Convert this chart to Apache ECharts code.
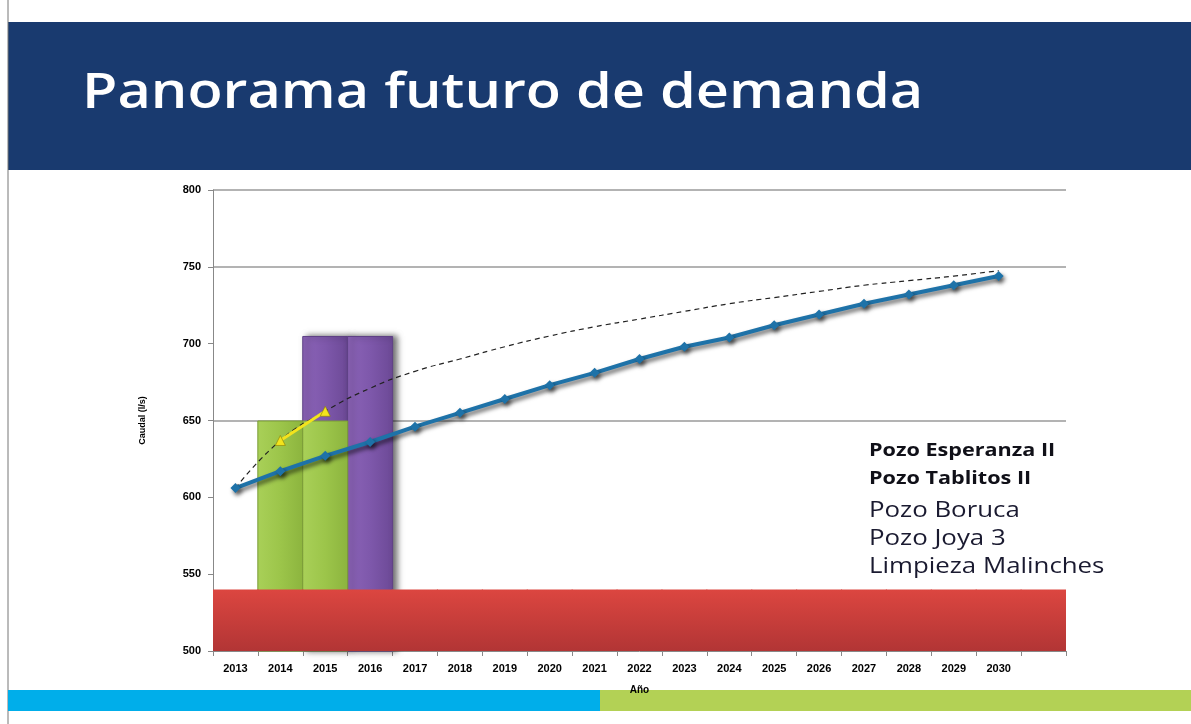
<!DOCTYPE html>
<html>
<head>
<meta charset="utf-8">
<title>Panorama futuro de demanda</title>
<script src="https://cdn.jsdelivr.net/npm/echarts@6/dist/echarts.min.js"></script>
<style>
  html, body { margin: 0; padding: 0; background: #fff; }
  #chart { width: 1191px; height: 724px; }
</style>
</head>
<body>
<div id="chart"></div>
<script>
// years on the x axis, last slot is an empty category
var years = ["2013", "2014", "2015", "2016", "2017", "2018", "2019", "2020", "2021",
  "2022", "2023", "2024", "2025", "2026", "2027", "2028", "2029", "2030", ""];

// demanda proyectada (l/s)
var demanda = [606, 617, 627, 636, 646, 655, 664, 673, 681,
  690, 698, 704, 712, 719, 726, 732, 738, 744, "-"];

// tendencia (linea punteada)
var tendencia = [606, 637, 656, 671, 682, 690, 698, 705, 711,
  716, 721, 726, 730, 734, 738, 741, 744, 747.5, "-"];

// tramo amarillo
var amarillo = ["-", 637, 656, "-", "-", "-", "-", "-", "-",
  "-", "-", "-", "-", "-", "-", "-", "-", "-", "-"];

// oferta: base + nuevos pozos
var base = [540, 540, 540, 540, 540, 540, 540, 540, 540,
  540, 540, 540, 540, 540, 540, 540, 540, 540, 540];
var verde = ["-", 650, 650, "-", "-", "-", "-", "-", "-",
  "-", "-", "-", "-", "-", "-", "-", "-", "-", "-"];
var morado = ["-", "-", 705, 705, "-", "-", "-", "-", "-",
  "-", "-", "-", "-", "-", "-", "-", "-", "-", "-"];

var yTicks = [500, 550, 600, 650, 700, 750, 800];

var proyectos = ["Pozo Esperanza II", "Pozo Tablitos II", "Pozo Boruca",
  "Pozo Joya 3", "Limpieza Malinches"];

var chart = echarts.init(document.getElementById("chart"));

var labelY = [451, 479, 511, 539, 567];
var textos = proyectos.map(function (t, i) {
  return {
    type: "text",
    x: 869,
    y: labelY[i],
    scaleX: i < 2 ? 1.2 : 1.23,
    originX: 0,
    originY: 0,
    style: {
      text: t,
      fill: i < 2 ? "#101018" : "#1a1a30",
      verticalAlign: "middle",
      font: (i < 2 ? "bold 18px" : "21px") + " 'Open Sans', sans-serif"
    }
  };
});

var redFill = new echarts.graphic.LinearGradient(0, 0, 0, 1, [
  { offset: 0, color: "#dc4640" },
  { offset: 1, color: "#b23535" }
]);

// slightly wider than the band so neighbouring bars overlap without seams
var anchoBarra = 46;

var option = {
  animation: false,
  backgroundColor: "#fff",
  grid: {
    left: 213,
    right: 125,
    top: 190,
    bottom: 73
  },
  graphic: [
    {
      type: "rect",
      shape: { x: 8, y: 22, width: 1183, height: 148 },
      style: { fill: "#193a6f" }
    },
    {
      type: "line",
      shape: { x1: 8, y1: 0, x2: 8, y2: 724 },
      style: { stroke: "#777", lineWidth: 1 }
    },
    {
      type: "text",
      x: 82,
      y: 94,
      scaleX: 1.2,
      originX: 0,
      originY: 0,
      style: {
        text: "Panorama futuro de demanda",
        fill: "#fff",
        verticalAlign: "middle",
        font: "600 48px 'Open Sans', sans-serif"
      }
    },
    {
      type: "rect",
      shape: { x: 8, y: 690, width: 592, height: 21 },
      style: { fill: "#00aeea" }
    },
    {
      type: "rect",
      shape: { x: 600, y: 690, width: 591, height: 21 },
      style: { fill: "#b3d155" }
    }
  ].concat(textos),
  xAxis: {
    type: "category",
    data: years,
    name: "Año",
    nameLocation: "middle",
    nameGap: 34,
    nameTextStyle: { fontSize: 10, fontWeight: "bold", color: "#000", fontFamily: "Liberation Sans" },
    axisLine: { lineStyle: { color: "#888" } },
    axisTick: { show: true, length: 5, lineStyle: { color: "#888" } },
    axisLabel: { fontSize: 11, fontWeight: "bold", color: "#000", margin: 12, fontFamily: "Liberation Sans", interval: 0 },
    splitLine: { show: false }
  },
  yAxis: {
    type: "value",
    min: 500,
    max: 800,
    interval: 50,
    name: "Caudal (l/s)",
    nameLocation: "middle",
    nameGap: 66,
    nameRotate: 90,
    nameTextStyle: { fontSize: 9, fontWeight: "bold", color: "#000", fontFamily: "Liberation Sans" },
    axisLine: { show: true, lineStyle: { color: "#888" } },
    axisTick: { show: true, length: 5, lineStyle: { color: "#888" } },
    axisLabel: {
      fontSize: 11,
      fontWeight: "bold",
      color: "#000",
      margin: 12,
      fontFamily: "Liberation Sans",
      formatter: function (v) {
        return yTicks.indexOf(v) >= 0 ? String(v) : "";
      }
    },
    splitLine: {
      show: true,
      lineStyle: {
        // solo 650, 750 y 800 se ven en la imagen
        color: ["rgba(0,0,0,0)", "rgba(0,0,0,0)", "rgba(0,0,0,0)", "#9a9a9a",
          "rgba(0,0,0,0)", "#9a9a9a", "#9a9a9a"],
        width: 1.5
      }
    }
  },
  series: [
    {
      name: "morado",
      type: "bar",
      data: morado,
      barWidth: anchoBarra,
      barGap: "-100%",
      itemStyle: {
        color: new echarts.graphic.LinearGradient(0, 0, 1, 0, [
          { offset: 0, color: "#8c64b8" },
          { offset: 0.5, color: "#7e58ab" },
          { offset: 1, color: "#6c4996" }
        ]),
        borderColor: "#5e4085",
        borderWidth: 1,
        shadowColor: "rgba(0,0,0,0.55)",
        shadowBlur: 6,
        shadowOffsetX: 4
      }
    },
    {
      name: "verde",
      type: "bar",
      data: verde,
      barWidth: anchoBarra,
      barGap: "-100%",
      itemStyle: {
        color: new echarts.graphic.LinearGradient(0, 0, 1, 0, [
          { offset: 0, color: "#a9d058" },
          { offset: 0.5, color: "#9cc54a" },
          { offset: 1, color: "#8cb43e" }
        ]),
        borderColor: "#7a9c36",
        borderWidth: 1
      }
    },
    {
      name: "base",
      type: "bar",
      data: base,
      barWidth: anchoBarra,
      barGap: "-100%",
      itemStyle: {
        color: redFill
      }
    },
    {
      name: "tendencia",
      type: "line",
      data: tendencia,
      smooth: true,
      symbol: "none",
      lineStyle: { color: "#222", width: 1.2, type: [5, 4] },
      z: 3
    },
    {
      name: "amarillo",
      type: "line",
      data: amarillo,
      symbol: "triangle",
      symbolSize: 10,
      lineStyle: { color: "#f3e31c", width: 3 },
      itemStyle: { color: "#f3e31c", borderColor: "#8a7d00", borderWidth: 0.6 },
      z: 4
    },
    {
      name: "demanda",
      type: "line",
      data: demanda,
      symbol: "diamond",
      symbolSize: 10,
      lineStyle: {
        color: "#1e72a8",
        width: 4,
        shadowColor: "rgba(0,0,0,0.6)",
        shadowBlur: 4,
        shadowOffsetX: 2,
        shadowOffsetY: 3
      },
      itemStyle: {
        color: "#1e72a8",
        shadowColor: "rgba(0,0,0,0.6)",
        shadowBlur: 4,
        shadowOffsetX: 2,
        shadowOffsetY: 3
      },
      z: 5
    }
  ]
};

chart.setOption(option);
</script>
</body>
</html>
